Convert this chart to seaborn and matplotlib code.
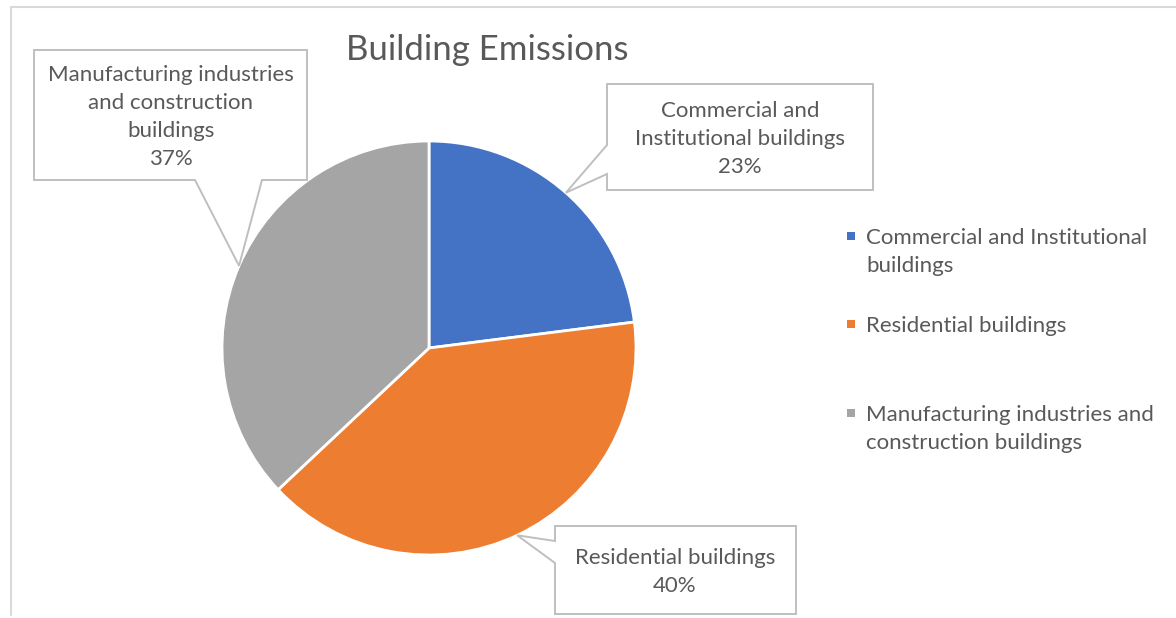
import textwrap
import numpy as np
import matplotlib
matplotlib.use("Agg")
import matplotlib.pyplot as plt
from matplotlib.patches import Polygon
import seaborn as sns

# data
categories = ["Commercial and Institutional buildings",
              "Residential buildings",
              "Manufacturing industries and construction buildings"]
shares = [23, 40, 37]
colors = ["#4472C4", "#ED7D31", "#A5A5A5"]
title = "Building Emissions"

W, H = 1176, 618
TXT = "#595959"
BOX = "#BFBFBF"
FS = 16
LS = 1.52


def Y(y):
    # image rows -> axes coords (y up)
    return H - y


def callout(ax, pts, text, cx, cy):
    poly = Polygon([(x, Y(y)) for x, y in pts], closed=True, facecolor="white",
                   edgecolor=BOX, linewidth=1.4, zorder=5)
    ax.add_patch(poly)
    ax.text(cx, Y(cy), text, ha="center", va="center", color=TXT, fontsize=FS,
            linespacing=LS, zorder=6)


sns.set_theme(style="white")
plt.rcParams["font.family"] = ["Lato", "DejaVu Sans"]

fig = plt.figure(figsize=(W / 100, H / 100), dpi=100)
ax = fig.add_axes([0, 0, 1, 1])

center = (429, Y(348))
radius = 207
wedges, _ = ax.pie(shares, colors=colors, startangle=90, counterclock=False,
                   center=center, radius=radius,
                   wedgeprops=dict(edgecolor="white", linewidth=2))
ax.set_xlim(0, W)
ax.set_ylim(0, H)
ax.set_aspect("auto")
ax.axis("off")

# tip of each callout sits on the rim at the middle of the slice
tips = []
for w in wedges:
    mid = np.deg2rad((w.theta1 + w.theta2) / 2)
    tx = center[0] + radius * np.cos(mid)
    ty = center[1] + radius * np.sin(mid)
    tips.append((tx, H - ty))

labels = [textwrap.fill(c, 24) + f"\n{s}%" for c, s in zip(categories, shares)]

# commercial: box right of the pie, pointer from left edge
t = tips[0]
callout(ax, [(607, 84), (873, 84), (873, 190), (607, 190), (607, 174), t, (607, 145)],
        labels[0], 740, 139)
# residential: box below right, pointer from left edge
t = tips[1]
callout(ax, [(555, 526), (796, 526), (796, 614), (555, 614), (555, 563), t, (555, 541)],
        labels[1], 675, 572)
# manufacturing: box top left, pointer from bottom edge
t = tips[2]
callout(ax, [(34, 50), (307, 50), (307, 180), (262, 180), t, (195, 180), (34, 180)],
        labels[2], 171, 117)

ax.text(487, Y(50), title, ha="center", va="center", color=TXT, fontsize=25)

# legend, fixed slots like the office chart
leg_y = [236, 324, 413]
for cat, col, ly in zip(categories, colors, leg_y):
    ax.scatter([851], [Y(ly)], marker="s", s=32, color=col, linewidths=0)
    ax.text(866, Y(ly - 8), textwrap.fill(cat, 28), ha="left", va="top", color=TXT,
            fontsize=FS, linespacing=LS)

# chart frame (partly visible)
ax.plot([11, 11, W + 5], [Y(615), Y(7), Y(7)], color="#D9D9D9", linewidth=1.5,
        clip_on=False)

fig.savefig("out.png", dpi=100)
